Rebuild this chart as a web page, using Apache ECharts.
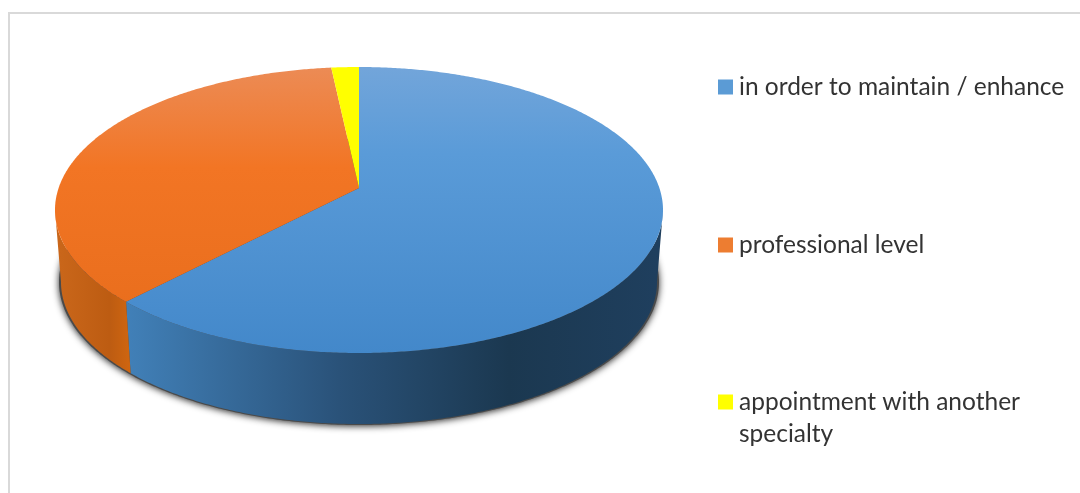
<!DOCTYPE html>
<html>
<head>
<meta charset="utf-8">
<style>html,body{margin:0;padding:0;background:#fff}#chart{width:1080px;height:493px}</style>
<script src="https://cdn.jsdelivr.net/npm/echarts@6/dist/echarts.min.js"></script>
</head>
<body>
<div id="chart"></div>
<script>
var categories = ['in order to maintain / enhance', 'professional level', 'appointment with another specialty'];
var values = [62.1, 36.2, 1.7];
var legendColors = ['#5b9bd5', '#ed7d31', '#ffff00'];

var myChart = echarts.init(document.getElementById('chart'));

// pie geometry, top face and the (slightly smaller) bottom face
var top_ = { cx: 359, cy: 210, rx: 304, ry: 143 };
var bot_ = { cx: 359, cy: 282, rx: 298, ry: 142 };
var shadow_ = { cx: 359, cy: 282, rx: 300, ry: 143 };
var apexY = 188; // the centre of the pie sits above the ellipse centre (perspective)
var p = (apexY - top_.cy) / top_.ry;

function grad(x, y, x2, y2, stops) {
  return new echarts.graphic.LinearGradient(x, y, x2, y2, stops, true);
}
var topFill = [
  grad(0, 68, 0, 353, [{ offset: 0, color: '#72a5da' }, { offset: 0.3, color: '#5a9bd8' }, { offset: 1, color: '#4388ca' }]),
  grad(0, 68, 0, 353, [{ offset: 0, color: '#ec8b55' }, { offset: 0.35, color: '#f27524' }, { offset: 1, color: '#e76c1b' }]),
  '#ffff00'
];
var sideFill = [
  grad(127, 0, 657, 0, [{ offset: 0, color: '#4180b8' }, { offset: 0.4, color: '#2a5279' }, { offset: 0.72, color: '#1b3850' }, { offset: 1, color: '#1f3f5e' }]),
  grad(60, 0, 131, 0, [{ offset: 0, color: '#c9661a' }, { offset: 0.7, color: '#bd5c12' }, { offset: 1, color: '#d06610' }]),
  '#b3b300'
];

// angle in degrees clockwise from 12 o'clock -> point on an ellipse
function rimPoint(e, deg) {
  var t = deg * Math.PI / 180;
  var X = Math.sin(t), Y = -Math.cos(t);
  var w = 1 + p * Y;
  return [e.cx + e.rx * X * Math.sqrt(1 - p * p) / w, e.cy + e.ry * (Y + p) / w];
}
function arc(e, a0, a1) {
  var pts = [];
  var n = Math.max(2, Math.ceil(Math.abs(a1 - a0) * 2));
  for (var i = 0; i <= n; i++) pts.push(rimPoint(e, a0 + (a1 - a0) * i / n));
  return pts;
}
// rim angle where the face ellipse reaches its left/right extreme
var rightDeg = Math.acos(p) * 180 / Math.PI;
var leftDeg = 360 - rightDeg;

var total = values.reduce(function (a, b) { return a + b; }, 0);

function renderSlice(params, api) {
  var i = params.seriesIndex;
  var a0 = api.value(0) / total * 360;
  var a1 = api.value(1) / total * 360;
  var children = [];
  if (i === 0) {
    children.push({
      type: 'polygon', z2: 1,
      shape: { points: arc(shadow_, 0, 360) },
      style: { fill: '#4a4a4a', shadowBlur: 7, shadowColor: 'rgba(0,0,0,0.85)', shadowOffsetY: 1 }
    });
  }
  var s0 = Math.max(a0, rightDeg), s1 = Math.min(a1, leftDeg);
  if (s1 > s0) {
    children.push({
      type: 'polygon', z2: 2,
      shape: { points: arc(top_, s0, s1).concat(arc(bot_, s1, s0)) },
      style: { fill: sideFill[i] }
    });
  }
  children.push({
    type: 'polygon', z2: 3,
    shape: { points: [[top_.cx, apexY]].concat(arc(top_, a0, a1)) },
    style: { fill: topFill[i] }
  });
  return { type: 'group', children: children };
}

var running = 0;
var series = categories.map(function (name, i) {
  var row = [running, running + values[i]];
  running += values[i];
  return {
    type: 'custom',
    name: name,
    coordinateSystem: 'none',
    silent: true,
    animation: false,
    itemStyle: { color: legendColors[i] },
    renderItem: renderSlice,
    data: [row]
  };
});

var legendTop = [71, 229, 354];
var legend = categories.map(function (name, i) {
  return {
    data: [name],
    orient: 'vertical',
    left: 718,
    top: legendTop[i],
    padding: 0,
    itemWidth: 15,
    itemHeight: 15,
    itemGap: 0,
    icon: 'rect',
    selectedMode: false,
    textStyle: { fontFamily: 'Lato', fontSize: 24.5, lineHeight: 32, color: '#333', padding: [0, 0, 0, 1] },
    formatter: function (n) {
      // keep the swatch level with the first line of the wrapped label
      return n === categories[2] ? '\nappointment with another\nspecialty' : n;
    }
  };
});

var option = {
  backgroundColor: '#fff',
  animation: false,
  legend: legend,
  series: series,
  graphic: [{
    type: 'polyline',
    shape: { points: [[9, 493], [9, 13], [1080, 13]] },
    style: { stroke: '#d9d9d9', lineWidth: 2, fill: null }
  }]
};

myChart.setOption(option);
</script>
</body>
</html>
